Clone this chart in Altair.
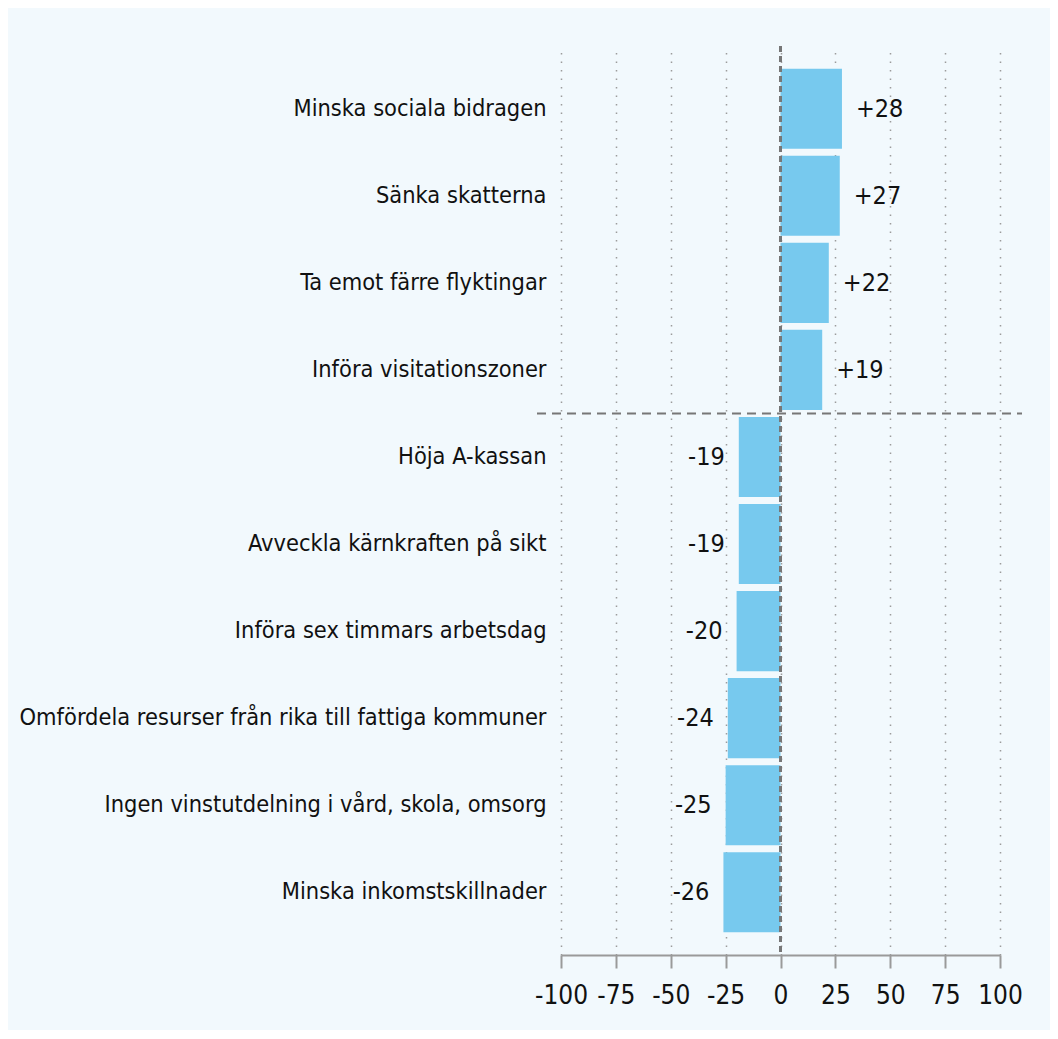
import altair as alt
import pandas as pd

categories = [
    "Minska sociala bidragen",
    "Sänka skatterna",
    "Ta emot färre flyktingar",
    "Införa visitationszoner",
    "Höja A-kassan",
    "Avveckla kärnkraften på sikt",
    "Införa sex timmars arbetsdag",
    "Omfördela resurser från rika till fattiga kommuner",
    "Ingen vinstutdelning i vård, skola, omsorg",
    "Minska inkomstskillnader",
]
values = [28, 27, 22, 19, -19, -19, -20, -24, -25, -26]
x_ticks = [-100, -75, -50, -25, 0, 25, 50, 75, 100]
split_category = "Höja A-kassan"

df = pd.DataFrame({
    "category": categories,
    "value": values,
    "label": [f"{v:+d}" for v in values],
})

FONT = "DejaVu Sans Condensed, Roboto, sans-serif"
BG = "#f2f9fd"
BAR = "#77c9ee"
TXT = "#111111"
AX = "#9a9a9a"

yscale = alt.Scale(domain=categories, paddingInner=0.08, paddingOuter=0.26)

y_main = alt.Y(
    "category:N", sort=categories, title=None, scale=yscale,
    axis=alt.Axis(domain=False, ticks=False, labelFontSize=23.4, labelColor=TXT,
                  labelPadding=15, labelFont=FONT, labelLimit=0),
)
x_main = alt.X(
    "value:Q", title=None,
    scale=alt.Scale(domain=[-100, 100], nice=False),
    axis=alt.Axis(values=x_ticks, labelExpr="'' + datum.value", grid=True,
                  gridDash=[1.5, 7], gridColor="#9c9c9c", gridWidth=1.5,
                  domainColor=AX, domainWidth=2, tickColor=AX, tickWidth=2,
                  tickSize=13, labelFontSize=26, labelPadding=14, labelFont=FONT,
                  labelColor=TXT, labelFlush=False),
)

base = alt.Chart(df)

bars = base.mark_bar(color=BAR).encode(x=x_main, y=y_main)

zero = base.mark_rule(strokeDash=[6, 4], color="#777777", strokeWidth=2).encode(
    x=alt.datum(0)
)

sep = base.transform_filter(alt.datum.category == split_category).mark_rule(
    strokeDash=[9, 6], color="#777777", strokeWidth=2, yOffset=-3.5
).encode(
    y=alt.Y("category:N", sort=categories, bandPosition=0),
    x=alt.value(-24),
    x2=alt.value(461),
)

pos = base.transform_filter(alt.datum.value > 0).mark_text(
    align="left", dx=14, fontSize=25, font=FONT, color=TXT, baseline="middle"
).encode(x="value:Q", y=alt.Y("category:N", sort=categories), text="label:N")

neg = base.transform_filter(alt.datum.value < 0).mark_text(
    align="right", dx=-14, fontSize=25, font=FONT, color=TXT, baseline="middle"
).encode(x="value:Q", y=alt.Y("category:N", sort=categories), text="label:N")

chart = alt.layer(bars, zero, sep, pos, neg).properties(
    width=439,
    height=909,
    autosize="none",
    padding={"left": 553, "top": 38, "right": 50, "bottom": 75},
    background=BG,
).configure_view(stroke=None)

chart.save("out.html", embed_options={"renderer": "svg", "actions": False})
